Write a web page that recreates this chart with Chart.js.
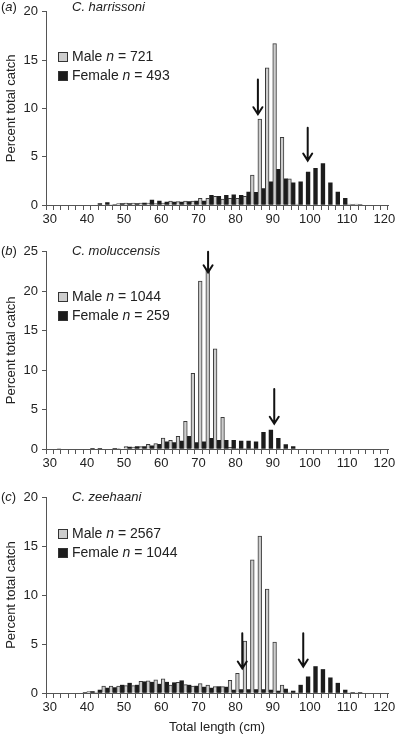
<!DOCTYPE html>
<html>
<head>
<meta charset="UTF-8">
<title>Length frequency - C. harrissoni, C. moluccensis, C. zeehaani</title>
<script src="https://cdn.jsdelivr.net/npm/chart.js"></script>
<style>
    body { margin: 0; background: #fff; font-family: 'Liberation Sans', Arial, sans-serif; }
    #wrap { position: relative; width: 399px; height: 735px; }
    .panel { position: absolute; left: 0; width: 399px; }
    .panel canvas { position: absolute; left: 0; top: 0; }
    .tag { position: absolute; left: 1px; font-size: 13px; color: #222; line-height: 14px; }
    .species { position: absolute; left: 72px; font-size: 13px; font-style: italic; color: #222; line-height: 14px; }
    .legend { position: absolute; left: 58px; font-size: 14px; color: #222; }
    .legend div { height: 19px; line-height: 19px; white-space: nowrap; }
    .legend span.box { display: inline-block; width: 8px; height: 8px; border: 1px solid #333; margin-right: 4px; vertical-align: -1px; }
</style>
</head>
<body>
<div id="wrap"></div>

<script>
    // length bins (cm, lower edge), 2 cm wide
    const bins = [30, 32, 34, 36, 38, 40, 42, 44, 46, 48, 50, 52, 54, 56, 58, 60, 62, 64, 66, 68,
                  70, 72, 74, 76, 78, 80, 82, 84, 86, 88, 90, 92, 94, 96, 98, 100, 102, 104, 106, 108,
                  110, 112, 114, 116, 118];

    // (a) C. harrissoni
    const harrMale = [0, 0, 0, 0, 0, 0, 0, 0, 0.05, 0.15, 0.2, 0.2, 0.2, 0.2, 0.15, 0.2, 0.4, 0.35, 0.4, 0.4,
                      0.7, 0.7, 0.9, 0.6, 0.7, 0.7, 0.9, 3.1, 8.9, 14.2, 16.7, 7.0, 2.7, 0.1, 0, 0, 0, 0, 0, 0,
                      0.1, 0.1, 0, 0, 0];
    const harrFemale = [0, 0, 0, 0, 0, 0, 0.15, 0.25, 0.05, 0.15, 0.15, 0.15, 0.2, 0.5, 0.4, 0.3, 0.3, 0.3, 0.35, 0.4,
                        0.4, 1.0, 0.9, 1.0, 1.05, 1.0, 1.35, 1.3, 1.7, 2.4, 3.7, 2.7, 2.3, 2.4, 3.4, 3.8, 4.3, 2.3, 1.35, 0.7,
                        0.05, 0.05, 0, 0, 0];

    // (b) C. moluccensis
    const molMale = [0, 0.1, 0, 0, 0, 0, 0, 0, 0, 0.05, 0.3, 0.25, 0.3, 0.6, 0.7, 1.4, 1.1, 1.6, 3.5, 9.6,
                     21.3, 22.8, 12.7, 4.0, 0.2, 0.1, 0.1, 0.1, 0, 0, 0, 0, 0, 0, 0, 0, 0, 0, 0, 0,
                     0, 0, 0, 0, 0];
    const molFemale = [0, 0, 0, 0, 0, 0.1, 0.1, 0, 0.1, 0, 0.25, 0.3, 0.3, 0.4, 0.6, 0.9, 0.8, 1.0, 1.6, 0.8,
                       0.9, 1.35, 1.1, 1.1, 1.1, 1.0, 1.0, 0.9, 2.1, 2.4, 1.35, 0.55, 0.3, 0, 0, 0, 0, 0, 0, 0,
                       0, 0, 0, 0, 0];

    // (c) C. zeehaani
    const zeeMale = [0, 0, 0, 0, 0, 0.15, 0.1, 0.7, 0.7, 0.7, 0.75, 0.75, 1.2, 1.25, 1.35, 1.45, 0.8, 1.1, 0.85, 0.7,
                     0.95, 0.8, 0.65, 0.65, 1.3, 2.0, 5.3, 13.6, 16.0, 10.6, 5.2, 0.8, 0.1, 0.05, 0, 0, 0, 0, 0, 0,
                     0.05, 0.05, 0, 0, 0];
    const zeeFemale = [0, 0, 0, 0, 0.05, 0.15, 0.3, 0.5, 0.55, 0.8, 1.0, 0.8, 1.15, 1.1, 0.9, 1.1, 1.05, 1.25, 0.8, 0.7,
                       0.6, 0.5, 0.65, 0.6, 0.3, 0.35, 0.35, 0.35, 0.35, 0.3, 0.2, 0.4, 0.2, 0.8, 1.65, 2.7, 2.4, 1.55, 1.0, 0.3,
                       0.05, 0.05, 0, 0, 0];

    // arrows: [length, top value, tip value]
    const harrArrows = [[86, 13, 9.4], [99.4, 8, 4.6]];
    const molArrows = [[72.6, 25, 22.4], [90.4, 7.6, 3.2]];
    const zeeArrows = [[81.8, 6.1, 2.5], [98.2, 6.1, 2.7]];

    const maleColor = '#cdcdcd';
    const femaleColor = '#1c1c1c';
    const edgeColor = '#3a3a3a';
    const fontSpec = { family: "'Liberation Sans', Arial, sans-serif", size: 13 };

    const panels = [
        { tag: 'a', species: 'C. harrissoni', male: harrMale, female: harrFemale, nMale: 721, nFemale: 493,
          yMax: 20, arrows: harrArrows, top: 0, height: 230, padTop: 7, axisH: 25, legendTop: 47, xTitle: false },
        { tag: 'b', species: 'C. moluccensis', male: molMale, female: molFemale, nMale: 1044, nFemale: 259,
          yMax: 25, arrows: molArrows, top: 240, height: 234, padTop: 11, axisH: 25, legendTop: 47, xTitle: false },
        { tag: 'c', species: 'C. zeehaani', male: zeeMale, female: zeeFemale, nMale: 2567, nFemale: 1044,
          yMax: 20, arrows: zeeArrows, top: 480, height: 255, padTop: 17, axisH: 42, legendTop: 44, xTitle: true }
    ];

    // draws the down arrows marking length at maturity
    const arrowPlugin = {
        id: 'arrows',
        afterDatasetsDraw(chart, args, opts) {
            const ctx = chart.ctx;
            const xs = chart.scales.x, ys = chart.scales.y;
            ctx.save();
            ctx.strokeStyle = '#111';
            ctx.lineWidth = 2;
            ctx.lineCap = 'round';
            (opts.list || []).forEach(a => {
                const x = xs.getPixelForValue(a[0]);
                const y0 = ys.getPixelForValue(a[1]);
                const y1 = ys.getPixelForValue(a[2]);
                ctx.beginPath();
                ctx.moveTo(x, y0);
                ctx.lineTo(x, y1 - 1);
                ctx.moveTo(x - 4.5, y1 - 7);
                ctx.lineTo(x, y1);
                ctx.lineTo(x + 4.5, y1 - 7);
                ctx.stroke();
            });
            ctx.restore();
        }
    };

    const wrap = document.getElementById('wrap');

    panels.forEach(p => {
        const div = document.createElement('div');
        div.className = 'panel';
        div.style.top = p.top + 'px';
        div.style.height = p.height + 'px';
        div.innerHTML =
            '<canvas width="399" height="' + p.height + '"></canvas>' +
            '<div class="tag" style="top:' + (p.padTop - 7) + 'px">(<i>' + p.tag + '</i>)</div>' +
            '<div class="species" style="top:' + (p.padTop - 7) + 'px">' + p.species + '</div>' +
            '<div class="legend" style="top:' + p.legendTop + 'px">' +
              '<div><span class="box" style="background:' + maleColor + '"></span>Male <i>n</i> = ' + p.nMale + '</div>' +
              '<div><span class="box" style="background:' + femaleColor + '"></span>Female <i>n</i> = ' + p.nFemale + '</div>' +
            '</div>';
        wrap.appendChild(div);

        const canvas = div.querySelector('canvas');
        canvas.style.width = '399px';
        canvas.style.height = p.height + 'px';

        new Chart(canvas.getContext('2d'), {
            type: 'bar',
            data: {
                datasets: [
                    {
                        label: 'Male',
                        data: bins.map((b, i) => ({ x: b + 1, y: p.male[i] || null })),
                        backgroundColor: maleColor,
                        borderColor: edgeColor,
                        borderWidth: 1
                    },
                    {
                        label: 'Female',
                        data: bins.map((b, i) => ({ x: b + 1, y: p.female[i] || null })),
                        backgroundColor: femaleColor,
                        borderColor: femaleColor,
                        borderWidth: 0
                    }
                ]
            },
            options: {
                responsive: false,
                animation: false,
                layout: { padding: { top: p.padTop, right: 0, left: 0, bottom: 0 } },
                datasets: { bar: { categoryPercentage: 1, barPercentage: 1 } },
                scales: {
                    x: {
                        type: 'linear',
                        min: 30,
                        max: 120,
                        afterFit: s => { s.height = p.axisH; s.paddingRight = 11; s.paddingLeft = 0; },
                        border: { color: '#555', width: 1 },
                        grid: { drawOnChartArea: false, drawTicks: true, tickLength: 5, color: '#555' },
                        ticks: {
                            stepSize: 2,
                            autoSkip: false,
                            maxRotation: 0,
                            padding: 2,
                            color: '#222',
                            font: fontSpec,
                            callback: v => (v % 10 === 0 ? String(v) : '')
                        },
                        title: {
                            display: p.xTitle,
                            text: 'Total length (cm)',
                            color: '#222',
                            font: fontSpec,
                            padding: { top: 2, bottom: 0 }
                        }
                    },
                    y: {
                        min: 0,
                        max: p.yMax,
                        afterFit: s => { s.width = 46; },
                        border: { color: '#555', width: 1 },
                        grid: { drawOnChartArea: false, drawTicks: true, tickLength: 4, color: '#555' },
                        ticks: { stepSize: 5, padding: 4, color: '#222', font: fontSpec },
                        title: {
                            display: true,
                            text: 'Percent total catch',
                            color: '#222',
                            font: fontSpec,
                            padding: { top: 4, bottom: 0 }
                        }
                    }
                },
                plugins: {
                    legend: { display: false },
                    tooltip: { enabled: false },
                    arrows: { list: p.arrows }
                }
            },
            plugins: [arrowPlugin]
        });
    });
</script>
</body>
</html>
